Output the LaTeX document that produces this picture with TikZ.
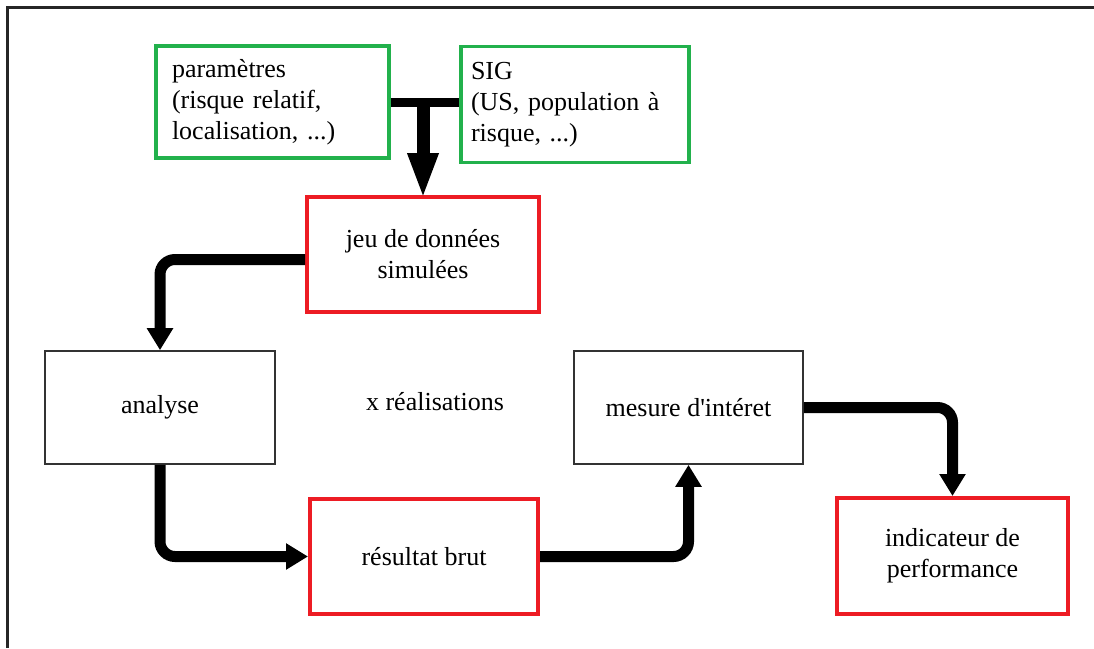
\documentclass[tikz,border=0pt]{standalone}
\usepackage{fontspec}
\setmainfont{Liberation Serif}[Ligatures=TeXOff]
\usetikzlibrary{arrows.meta}
\definecolor{boxgreen}{HTML}{22B14C}
\definecolor{boxred}{HTML}{ED1C24}
\tikzset{
  txt/.style={font=\fontsize{26}{31}\selectfont, text=black},
  greenbox/.style={txt, draw=boxgreen, line width=3.5pt, rectangle, inner ysep=0pt},
  redbox/.style={txt, draw=boxred, line width=4pt, rectangle, align=center, inner sep=0pt},
  plainbox/.style={txt, draw=black!80, line width=1.6pt, rectangle, align=center, inner sep=0pt},
  flow/.style={line width=11pt, rounded corners=15pt, -{Triangle[length=22pt,width=25pt]}},
  frame/.style={draw=black!85, line width=2.5pt}
}
\begin{document}
\begin{tikzpicture}[x=1pt, y=-1pt]
\useasboundingbox (0,0) rectangle (1094,648);
\draw[frame] (7.5,648) -- (7.5,7.5) -- (1094,7.5);

\node[greenbox, minimum width=233pt, minimum height=112pt, text width=201pt, inner xsep=16pt, align=left]
  (param) at (272.5,102) {paramètres\\(risque relatif,\\localisation, ...)};
\node[greenbox, minimum width=228pt, minimum height=116pt, text width=208pt, inner xsep=10pt, align=left]
  (sig) at (575,104.5) {SIG\\(US, population à\\risque, ...)};

\node[redbox, minimum width=232pt, minimum height=115pt] (jeu) at (423,254.5) {jeu de données\\simulées};
\node[plainbox, minimum width=230pt, minimum height=113pt] (analyse) at (160,407.5) {analyse};
\node[txt] (xreal) at (435,402) {x réalisations};
\node[plainbox, minimum width=229pt, minimum height=113pt] (mesure) at (688.5,407.5) {mesure d'intéret};
\node[redbox, minimum width=228pt, minimum height=115pt] (resultat) at (424,556.5) {résultat brut};
\node[redbox, minimum width=231pt, minimum height=116pt] (indic) at (952.5,556) {indicateur de\\performance};

% T junction
\draw[line width=9pt] (param.east) -- (param.east -| sig.west);
\draw[line width=13pt, -{Triangle[length=46pt,width=28pt]}] ([yshift=-1pt]param.east -| jeu.north) -- ([yshift=-4pt]jeu.north);

% flow arrows
\draw[flow] ([yshift=-5pt]jeu.west) -- ([yshift=-5pt]jeu.west -| analyse.north) -- (analyse.north);
\draw[flow] (analyse.south) -- (analyse.south |- resultat.west) -- (resultat.west);
\draw[flow] (resultat.east) -- (resultat.east -| mesure.south) -- (mesure.south);
\draw[flow] (mesure.east) -- (mesure.east -| indic.north) -- (indic.north);
\end{tikzpicture}
\end{document}
